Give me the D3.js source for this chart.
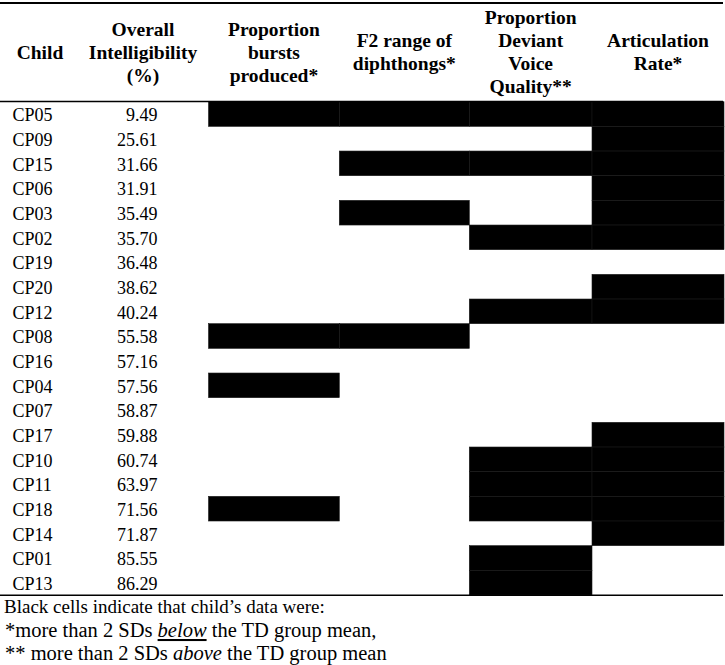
<!DOCTYPE html>
<html><head><meta charset="utf-8">
<script src="https://cdn.jsdelivr.net/npm/d3@7"></script>
<style>
body{margin:0;background:#fff;}
svg{display:block;font-family:"Liberation Serif","Times New Roman",serif;}
</style></head>
<body><svg id="chart" width="725" height="665"></svg>
<script>
const children = ["CP05","CP09","CP15","CP06","CP03","CP02","CP19","CP20","CP12","CP08","CP16","CP04","CP07","CP17","CP10","CP11","CP18","CP14","CP01","CP13"];
const intelligibility = [9.49,25.61,31.66,31.91,35.49,35.70,36.48,38.62,40.24,55.58,57.16,57.56,58.87,59.88,60.74,63.97,71.56,71.87,85.55,86.29];
const measures = ["bursts","f2","voice","artic"];
const burstsFlag = [1,0,0,0,0,0,0,0,0,1,0,1,0,0,0,0,1,0,0,0];
const f2Flag     = [1,0,1,0,1,0,0,0,0,1,0,0,0,0,0,0,0,0,0,0];
const voiceFlag  = [1,0,1,0,0,1,0,0,1,0,0,0,0,0,1,1,1,0,1,1];
const articFlag  = [1,1,1,1,1,1,0,1,1,0,0,0,0,1,1,1,1,1,0,0];
const headerChild = ["Child"];
const headerIntel = ["Overall","Intelligibility","(%)"];
const headerMeasures = [
  ["Proportion","bursts","produced*"],
  ["F2 range of","diphthongs*"],
  ["Proportion","Deviant","Voice","Quality**"],
  ["Articulation","Rate*"]
];
const footnotes = ["Black cells indicate that child\u2019s data were:"];

const flags = {bursts: burstsFlag, f2: f2Flag, voice: voiceFlag, artic: articFlag};
const svg = d3.select("#chart");

const y = d3.scaleBand().domain(children).range([101.7, 595]).padding(0);
const colX = d3.scaleLinear().domain([0,1,2,3,4]).range([208.5, 339.3, 469.3, 592, 724]);
const mIndex = d3.scaleOrdinal().domain(measures).range([0,1,2,3]);

// cells
const cells = [];
measures.forEach(m => children.forEach((c,i) => { if (flags[m][i]) cells.push({m, c}); }));
svg.append("g").selectAll("rect").data(cells).join("rect")
  .attr("x", d => colX(mIndex(d.m)))
  .attr("y", d => y(d.c))
  .attr("width", d => colX(mIndex(d.m)+1) - colX(mIndex(d.m)))
  .attr("height", y.bandwidth())
  .attr("fill", "#000")
  .attr("stroke", "#1a1a1a")
  .attr("stroke-width", 0.6);

// rules
const rules = [{y:3, w:2}, {y:101.5, w:1.6}, {y:595.3, w:1.6}];
svg.append("g").selectAll("line").data(rules).join("line")
  .attr("x1", 0).attr("x2", 723)
  .attr("y1", d => d.y).attr("y2", d => d.y)
  .attr("stroke", "#000").attr("stroke-width", d => d.w);

// headers
const headers = [
  {lines: headerChild, cx: 40},
  {lines: headerIntel, cx: 143},
  ...headerMeasures.map((l,i) => ({lines: l, cx: (colX(i)+colX(i+1))/2}))
];
const hg = svg.append("g").attr("font-weight","bold").attr("font-size","19.5px").attr("text-anchor","middle").attr("fill","#000");
headers.forEach(h => {
  const n = h.lines.length;
  h.lines.forEach((t,i) => {
    hg.append("text").attr("x", h.cx).attr("y", 58.5 + (i - (n-1)/2)*23).text(t);
  });
});

// body
const bg = svg.append("g").attr("font-size","18px").attr("fill","#000");
bg.selectAll("text.child").data(children).join("text").attr("class","child")
  .attr("x", 12.5).attr("y", d => y(d) + 19.5).text(d => d);
bg.selectAll("text.val").data(intelligibility).join("text").attr("class","val")
  .attr("x", 157.5).attr("y", (d,i) => y(children[i]) + 19.5)
  .attr("text-anchor","end").text(d => d.toFixed(2));

// footnotes
const fg = svg.append("g").attr("fill","#000");
fg.append("text").attr("x", 4).attr("y", 613).attr("font-size","19px").text(footnotes[0]);
const l2 = fg.append("text").attr("x", 5).attr("y", 637).attr("font-size","20.5px");
l2.append("tspan").text("*more than 2 SDs ");
l2.append("tspan").attr("font-style","italic").attr("text-decoration","underline").text("below");
l2.append("tspan").text(" the TD group mean,");
const l3 = fg.append("text").attr("x", 5).attr("y", 660).attr("font-size","20.5px");
l3.append("tspan").text("** more than 2 SDs ");
l3.append("tspan").attr("font-style","italic").text("above");
l3.append("tspan").text(" the TD group mean");
</script></body></html>
